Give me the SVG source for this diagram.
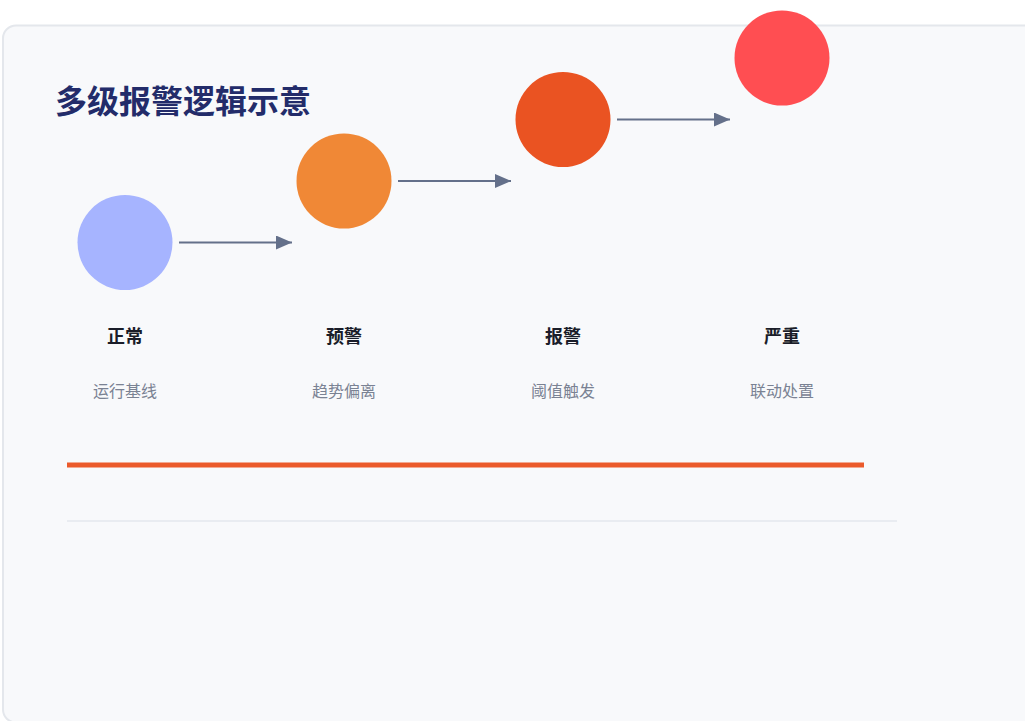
<svg xmlns="http://www.w3.org/2000/svg" width="1025" height="721" viewBox="0 0 1025 721">
<defs>
<style>
.title{font-family:"Noto Sans CJK SC","Noto Sans",sans-serif;font-weight:700;font-size:32px;fill:#232c6a}
.lbl{font-family:"Noto Sans CJK SC","Noto Sans",sans-serif;font-weight:700;font-size:18px;fill:#1a1d29;text-anchor:middle}
.sub{font-family:"Noto Sans CJK SC","Noto Sans",sans-serif;font-size:16px;fill:#7a8293;text-anchor:middle}
.conn{stroke:#64708a;stroke-width:2.2;fill:none}
</style>
<marker id="ah" viewBox="0 0 16 14" refX="16" refY="7" markerWidth="16" markerHeight="14" markerUnits="userSpaceOnUse" orient="auto">
<path d="M0,0 L16,7 L0,14 Z" fill="#64708a"/>
</marker>
</defs>
<rect x="0" y="0" width="1025" height="721" fill="#ffffff"/>
<rect x="3" y="25.5" width="1040" height="697" rx="13" fill="#f8f9fb" stroke="#e4e7ec" stroke-width="2"/>
<text class="title" x="55" y="113">多级报警逻辑示意</text>
<g id="connectors">
<line class="conn" x1="179" y1="242.5" x2="292" y2="242.5" marker-end="url(#ah)"/>
<line class="conn" x1="398" y1="181" x2="511" y2="181" marker-end="url(#ah)"/>
<line class="conn" x1="617" y1="119.5" x2="730" y2="119.5" marker-end="url(#ah)"/>
</g>
<g id="n1"><circle cx="125" cy="242.5" r="47.5" fill="#a6b4ff"/><text class="lbl" x="125" y="342.5">正常</text><text class="sub" x="125" y="396.5">运行基线</text></g>
<g id="n2"><circle cx="344" cy="181" r="47.5" fill="#f08836"/><text class="lbl" x="344" y="342.5">预警</text><text class="sub" x="344" y="396.5">趋势偏离</text></g>
<g id="n3"><circle cx="563" cy="119.5" r="47.5" fill="#ea5322"/><text class="lbl" x="563" y="342.5">报警</text><text class="sub" x="563" y="396.5">阈值触发</text></g>
<g id="n4"><circle cx="782" cy="58" r="47.5" fill="#ff4e52"/><text class="lbl" x="782" y="342.5">严重</text><text class="sub" x="782" y="396.5">联动处置</text></g>
<rect x="67" y="462.5" width="797" height="5" fill="#eb5a2b"/>
<line x1="67" y1="521" x2="897" y2="521" stroke="#e4e7ee" stroke-width="1.5"/>
</svg>
